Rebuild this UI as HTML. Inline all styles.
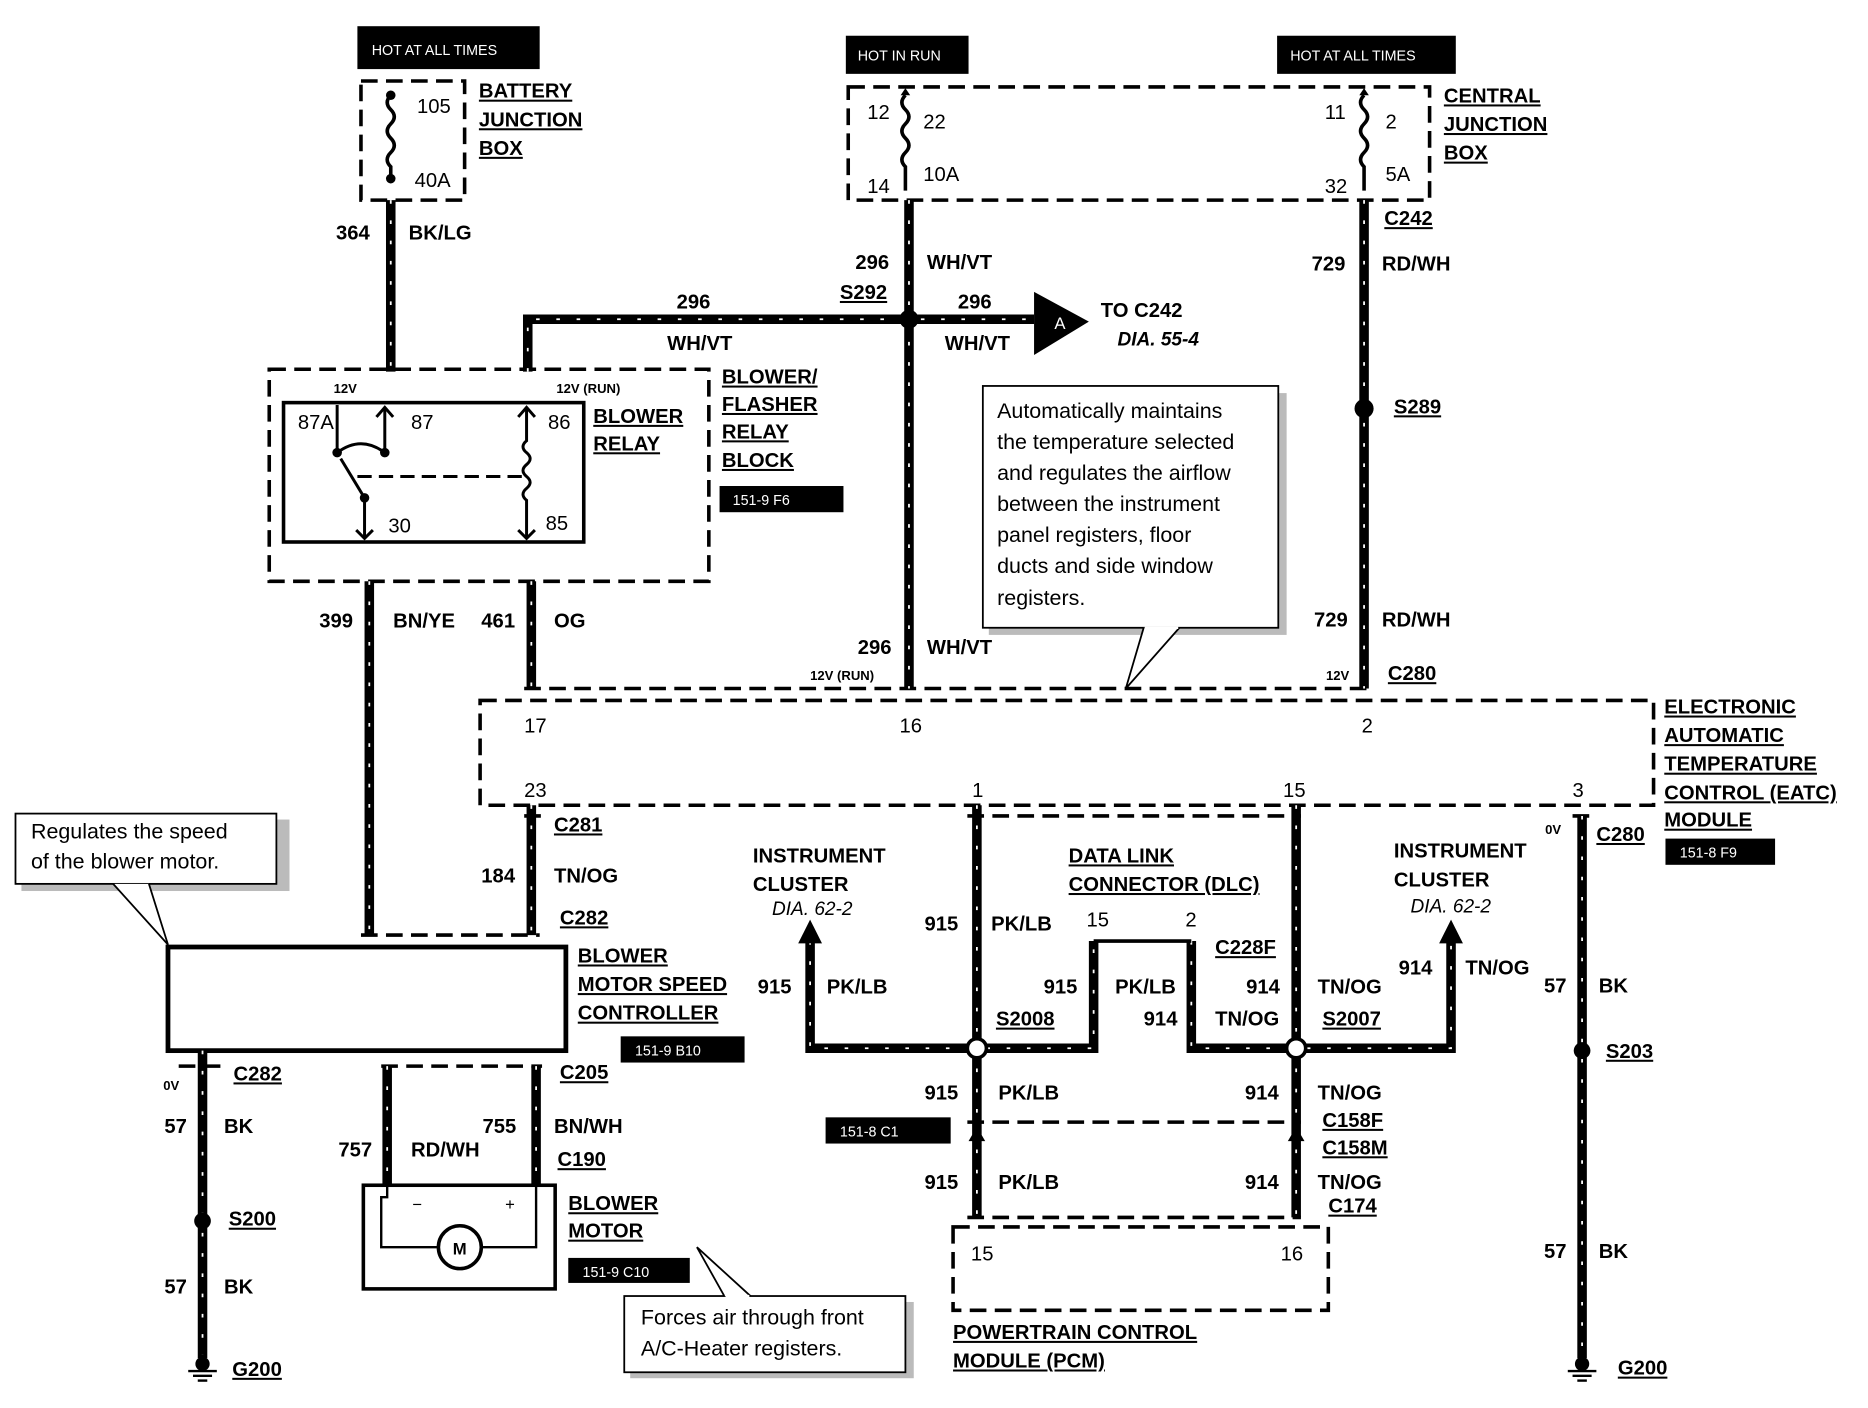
<!DOCTYPE html>
<html><head><meta charset="utf-8"><style>
html,body{margin:0;padding:0;background:#fff}
svg{display:block}
text{font-family:"Liberation Sans",sans-serif;fill:#000}
.b{font-weight:bold;font-size:17px}
.u{text-decoration:underline}
.n{font-size:17px}
.s{font-weight:bold;font-size:11px}
.it{font-style:italic;font-size:16px}
.w{fill:#fff;font-size:12px}
.c{font-size:18px}
</style></head><body>
<svg width="1868" height="1408" viewBox="0 0 1568 1182" preserveAspectRatio="none" xmlns="http://www.w3.org/2000/svg">
<defs>
<g id="gnd"><line x1="0" y1="-8" x2="0" y2="0" stroke="#000" stroke-width="4"/><circle cx="0" cy="0" r="6"/><line x1="-12" y1="6" x2="12" y2="6" stroke="#000" stroke-width="2"/><line x1="-8" y1="10" x2="8" y2="10" stroke="#000" stroke-width="2"/><line x1="-4" y1="14" x2="4" y2="14" stroke="#000" stroke-width="2"/></g>
</defs>
<g fill="none" stroke="#000">
<g stroke-width="3" stroke-dasharray="14 7">
<rect x="303" y="68" width="87" height="100"/>
<rect x="712" y="73" width="488" height="95"/>
<rect x="226" y="310" width="369" height="178"/>
<rect x="403" y="588" width="985" height="88"/>
<rect x="800" y="1030" width="315" height="70"/>
<line x1="303" y1="785" x2="453" y2="785"/>
<line x1="320" y1="895" x2="455" y2="895"/>
<line x1="320" y1="995" x2="455" y2="995"/>
<line x1="812" y1="685" x2="1092" y2="685"/>
<line x1="812" y1="942" x2="1092" y2="942"/>
<line x1="812" y1="1022" x2="1092" y2="1022"/>
<line x1="150" y1="895" x2="185" y2="895"/>
<line x1="1320" y1="685" x2="1336" y2="685"/>
<line x1="440" y1="578" x2="1150" y2="578"/>
<line x1="440" y1="685" x2="455" y2="685"/>
</g>
<rect x="238" y="338" width="252" height="117" stroke-width="3"/>
<rect x="141" y="795" width="334" height="87" stroke-width="4"/>
<rect x="305" y="995" width="161" height="87" stroke-width="3"/>
<polyline points="325,995 325,1005 320,1005 320,1047 368,1047" stroke-width="2"/>
<polyline points="450,995 450,1005 450,1047 404,1047" stroke-width="2"/>
<circle cx="386" cy="1047" r="18" stroke-width="3"/>
<g stroke-width="8">
<path d="M328 168V312M763 168V578M1145 168V578M443 312V268H868M310 488V785M446 488V578M446 676V785M170 882V1140M325 895V995M450 895V995M820 676V1022M1088 676V1022M1328 685V1140M680 790V880H918V790M1000 790V880H1218V790"/>
</g>
<g stroke="#fff" stroke-width="1.5" stroke-dasharray="3 14">
<path d="M328 168V312M763 168V578M1145 168V578M443 312V268H868M310 488V785M446 488V578M446 676V785M170 882V1140M325 895V995M450 895V995M820 676V1022M1088 676V1022M1328 685V1140M680 790V880H918V790M1000 790V880H1218V790"/>
</g>
<line x1="918" y1="790" x2="1000" y2="790" stroke-width="3"/>
<path d="M328 80 q-6 6 0 12 q6 6 0 12 q-6 6 0 12 q6 6 0 12 q-6 6 0 12 V150" stroke-width="3"/>
<path d="M760 80 q-6 6 0 12 q6 6 0 12 q-6 6 0 12 q6 6 0 12 q-6 6 0 12 V160" stroke-width="3"/>
<path d="M1145 80 q-6 6 0 12 q6 6 0 12 q-6 6 0 12 q6 6 0 12 q-6 6 0 12 V160" stroke-width="3"/>
<g stroke-width="2.5">
<line x1="283" y1="340" x2="283" y2="380"/>
<path d="M283 380 q20 -15 40 0"/>
<line x1="323" y1="380" x2="323" y2="342"/>
<line x1="286" y1="385" x2="306" y2="418"/>
<line x1="306" y1="418" x2="306" y2="452"/>
<line x1="300" y1="400" x2="440" y2="400" stroke-dasharray="12 6"/>
<path d="M442 342V370q-6 5 0 10q6 5 0 10q-6 5 0 10q6 5 0 10q-6 5 0 10V452"/>
<path d="M316 350 L323 342 L330 350 M435 350 L442 342 L449 350 M299 445 L306 452 L313 445 M435 445 L442 452 L449 445"/>
</g>
<rect x="830" y="330" width="250" height="203" fill="#bbb" stroke="none"/>
<rect x="825" y="324" width="248" height="203" fill="#fff" stroke-width="1.5"/>
<polyline points="960,527 945,578 990,527" fill="#fff" stroke-width="1.5"/>
<line x1="961" y1="527" x2="989" y2="527" stroke="#fff" stroke-width="2"/>
<rect x="18" y="688" width="225" height="60" fill="#bbb" stroke="none"/>
<rect x="13" y="683" width="219" height="59" fill="#fff" stroke-width="1.5"/>
<polyline points="95,742 141,793 125,742" fill="#fff" stroke-width="1.5"/>
<rect x="529" y="1093" width="238" height="64" fill="#bbb" stroke="none"/>
<rect x="524" y="1088" width="236" height="64" fill="#fff" stroke-width="1.5"/>
<polyline points="608,1088 585,1047 585,1047 630,1088" fill="#fff" stroke-width="1.5"/>
<line x1="609" y1="1088" x2="629" y2="1088" stroke="#fff" stroke-width="2"/>
</g>
<g fill="#000">
<circle cx="328" cy="80" r="4"/><circle cx="328" cy="150" r="4"/>
<circle cx="763" cy="268" r="8"/><circle cx="1145" cy="343" r="8"/>
<circle cx="170" cy="1025" r="7"/><circle cx="1328" cy="882" r="7"/>
<circle cx="820" cy="880" r="8" fill="#fff" stroke="#000" stroke-width="3"/>
<circle cx="1088" cy="880" r="8" fill="#fff" stroke="#000" stroke-width="3"/>
<circle cx="283" cy="380" r="4"/><circle cx="323" cy="380" r="4"/><circle cx="306" cy="418" r="4"/>
<polygon points="868,245 914,270 868,298"/>
<polygon points="670,792 680,772 690,792"/>
<polygon points="1208,792 1218,772 1228,792"/>
<polygon points="813,958 820,946 827,958"/><polygon points="1081,958 1088,946 1095,958"/>
<polygon points="756,80 760,74 764,80"/><polygon points="1141,80 1145,74 1149,80"/>
<use href="#gnd" x="170" y="1145"/><use href="#gnd" x="1328" y="1145"/>
<rect x="300" y="22" width="153" height="36"/>
<rect x="710" y="30" width="103" height="32"/>
<rect x="1072" y="30" width="150" height="32"/>
<rect x="604" y="408" width="104" height="22"/>
<rect x="1398" y="704" width="92" height="22"/>
<rect x="521" y="870" width="104" height="22"/>
<rect x="693" y="938" width="105" height="22"/>
<rect x="477" y="1056" width="102" height="21"/>
</g>
<text x="312" y="46" class="w">HOT AT ALL TIMES</text>
<text x="720" y="51" class="w">HOT IN RUN</text>
<text x="1083" y="51" class="w">HOT AT ALL TIMES</text>
<text x="615" y="424" class="w">151-9 F6</text>
<text x="1410" y="720" class="w">151-8 F9</text>
<text x="533" y="886" class="w">151-9 B10</text>
<text x="705" y="954" class="w">151-8 C1</text>
<text x="489" y="1072" class="w">151-9 C10</text>
<text x="885" y="276" style="fill:#fff;font-size:14px">A</text>
<text x="380" y="1053" style="font-size:14px;font-weight:bold">M</text>
<text x="346" y="1016" style="font-size:14px">−</text><text x="424" y="1016" style="font-size:14px">+</text>
<g class="n">
<text x="350" y="95">105</text><text x="348" y="157">40A</text>
<text x="728" y="100">12</text><text x="775" y="108">22</text><text x="728" y="162">14</text><text x="775" y="152">10A</text>
<text x="1112" y="100">11</text><text x="1163" y="108">2</text><text x="1112" y="162">32</text><text x="1163" y="152">5A</text>
<text x="250" y="360">87A</text><text x="345" y="360">87</text><text x="460" y="360">86</text><text x="326" y="447">30</text><text x="458" y="445">85</text>
<text x="440" y="615">17</text><text x="755" y="615">16</text><text x="1143" y="615">2</text>
<text x="440" y="669">23</text><text x="816" y="669">1</text><text x="1077" y="669">15</text><text x="1320" y="669">3</text>
<text x="912" y="778">15</text><text x="995" y="778">2</text>
<text x="815" y="1058">15</text><text x="1075" y="1058">16</text>
</g>
<g class="b">
<text x="402" y="82" class="u">BATTERY</text><text x="402" y="106" class="u">JUNCTION</text><text x="402" y="130" class="u">BOX</text>
<text x="1212" y="86" class="u">CENTRAL</text><text x="1212" y="110" class="u">JUNCTION</text><text x="1212" y="134" class="u">BOX</text>
<text x="282" y="201">364</text><text x="343" y="201">BK/LG</text>
<text x="718" y="226">296</text><text x="778" y="226">WH/VT</text>
<text x="1101" y="227">729</text><text x="1160" y="227">RD/WH</text>
<text x="1162" y="189" class="u">C242</text>
<text x="568" y="259">296</text><text x="560" y="294">WH/VT</text><text x="705" y="251" class="u">S292</text>
<text x="804" y="259">296</text><text x="793" y="294">WH/VT</text>
<text x="924" y="266">TO  C242</text>
<text x="1170" y="347" class="u">S289</text>
<text x="498" y="355" class="u">BLOWER</text><text x="498" y="378" class="u">RELAY</text>
<text x="606" y="322" class="u">BLOWER/</text><text x="606" y="345" class="u">FLASHER</text><text x="606" y="368" class="u">RELAY</text><text x="606" y="392" class="u">BLOCK</text>
<text x="268" y="527">399</text><text x="330" y="527">BN/YE</text><text x="404" y="527">461</text><text x="465" y="527">OG</text>
<text x="720" y="549">296</text><text x="778" y="549">WH/VT</text>
<text x="1103" y="526">729</text><text x="1160" y="526">RD/WH</text><text x="1165" y="571" class="u">C280</text>
<text x="1397" y="599" class="u">ELECTRONIC</text><text x="1397" y="623" class="u">AUTOMATIC</text><text x="1397" y="647" class="u">TEMPERATURE</text><text x="1397" y="671" class="u">CONTROL (EATC)</text><text x="1397" y="694" class="u">MODULE</text>
<text x="465" y="698" class="u">C281</text><text x="404" y="741">184</text><text x="465" y="741">TN/OG</text><text x="470" y="776" class="u">C282</text>
<text x="485" y="808" class="u">BLOWER</text><text x="485" y="832" class="u">MOTOR SPEED</text><text x="485" y="856" class="u">CONTROLLER</text>
<text x="196" y="907" class="u">C282</text><text x="138" y="951">57</text><text x="188" y="951">BK</text>
<text x="192" y="1029" class="u">S200</text><text x="138" y="1086">57</text><text x="188" y="1086">BK</text><text x="195" y="1155" class="u">G200</text>
<text x="470" y="906" class="u">C205</text><text x="284" y="971">757</text><text x="345" y="971">RD/WH</text><text x="405" y="951">755</text><text x="465" y="951">BN/WH</text><text x="468" y="979" class="u">C190</text>
<text x="477" y="1016" class="u">BLOWER</text><text x="477" y="1039" class="u">MOTOR</text>
<text x="632" y="724">INSTRUMENT</text><text x="632" y="748">CLUSTER</text>
<text x="897" y="724" class="u">DATA LINK</text><text x="897" y="748" class="u">CONNECTOR (DLC)</text>
<text x="1170" y="720">INSTRUMENT</text><text x="1170" y="744">CLUSTER</text>
<text x="776" y="781">915</text><text x="832" y="781">PK/LB</text>
<text x="1020" y="801" class="u">C228F</text>
<text x="636" y="834">915</text><text x="694" y="834">PK/LB</text>
<text x="876" y="834">915</text><text x="936" y="834">PK/LB</text>
<text x="1046" y="834">914</text><text x="1106" y="834">TN/OG</text>
<text x="1174" y="818">914</text><text x="1230" y="818">TN/OG</text>
<text x="836" y="861" class="u">S2008</text><text x="960" y="861">914</text><text x="1020" y="861">TN/OG</text><text x="1110" y="861" class="u">S2007</text>
<text x="776" y="923">915</text><text x="838" y="923">PK/LB</text><text x="1045" y="923">914</text><text x="1106" y="923">TN/OG</text>
<text x="1110" y="946" class="u">C158F</text><text x="1110" y="969" class="u">C158M</text>
<text x="776" y="998">915</text><text x="838" y="998">PK/LB</text><text x="1045" y="998">914</text><text x="1106" y="998">TN/OG</text><text x="1115" y="1018" class="u">C174</text>
<text x="800" y="1124" class="u">POWERTRAIN CONTROL</text><text x="800" y="1148" class="u">MODULE (PCM)</text>
<text x="1340" y="706" class="u">C280</text><text x="1296" y="833">57</text><text x="1342" y="833">BK</text>
<text x="1348" y="888" class="u">S203</text><text x="1296" y="1056">57</text><text x="1342" y="1056">BK</text><text x="1358" y="1154" class="u">G200</text>
</g>
<g class="s">
<text x="280" y="330">12V</text><text x="467" y="330">12V (RUN)</text>
<text x="680" y="571">12V (RUN)</text><text x="1113" y="571">12V</text>
<text x="137" y="915">0V</text><text x="1297" y="700">0V</text>
</g>
<text x="938" y="290" class="it" style="font-weight:bold">DIA. 55-4</text>
<text x="648" y="768" class="it">DIA. 62-2</text>
<text x="1184" y="766" class="it">DIA. 62-2</text>
<g class="c">
<text x="837" y="351">Automatically maintains</text>
<text x="837" y="377">the temperature selected</text>
<text x="837" y="403">and regulates the airflow</text>
<text x="837" y="429">between the instrument</text>
<text x="837" y="455">panel registers, floor</text>
<text x="837" y="481">ducts and side window</text>
<text x="837" y="508">registers.</text>
<text x="26" y="704">Regulates the speed</text>
<text x="26" y="729">of the blower motor.</text>
<text x="538" y="1112">Forces air through front</text>
<text x="538" y="1138">A/C-Heater registers.</text>
</g>
</svg>
</body></html>
